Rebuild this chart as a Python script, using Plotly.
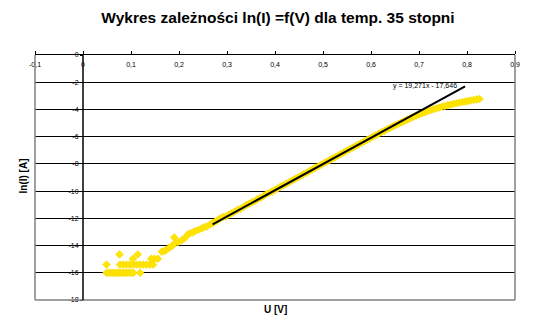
import plotly.graph_objects as go

# ---- data ----
u_low = [0.049, 0.053, 0.057, 0.061, 0.065, 0.069, 0.073, 0.077, 0.081, 0.085, 0.089, 0.093,
         0.097, 0.101, 0.105, 0.119,
         0.049, 0.077, 0.083, 0.090, 0.097, 0.104, 0.111, 0.118, 0.125, 0.132, 0.139, 0.146,
         0.076, 0.114, 0.104, 0.142, 0.149, 0.156]
ln_low = [-16.0, -16.0, -16.0, -16.0, -16.0, -16.0, -16.0, -16.0, -16.0, -16.0, -16.0, -16.0,
          -16.0, -16.0, -16.0, -16.0,
          -15.4, -15.4, -15.4, -15.4, -15.4, -15.4, -15.4, -15.4, -15.4, -15.4, -15.4, -15.4,
          -14.65, -14.65, -14.97, -14.97, -14.97, -14.97]

u_rise = [0.164, 0.170, 0.174, 0.180, 0.185, 0.190, 0.192, 0.198, 0.206, 0.212, 0.218, 0.223,
          0.228, 0.233, 0.240, 0.247, 0.252, 0.258, 0.265, 0.270, 0.275, 0.280, 0.286, 0.292]
ln_rise = [-14.45, -14.40, -14.30, -14.15, -14.05, -13.40, -13.80, -13.75, -13.60, -13.45, -13.20, -13.10,
           -13.05, -12.95, -12.85, -12.75, -12.65, -12.60, -12.45, -12.35, -12.25, -12.15, -12.00, -11.90]

u_main = [0.298, 0.304, 0.310, 0.316, 0.322, 0.328, 0.334, 0.340, 0.346, 0.352, 0.358, 0.364,
          0.370, 0.376, 0.382, 0.388, 0.394, 0.400, 0.406, 0.412, 0.418, 0.424, 0.430, 0.436,
          0.442, 0.448, 0.454, 0.460, 0.466, 0.472, 0.478, 0.484, 0.490, 0.496, 0.502, 0.508,
          0.514, 0.520, 0.526, 0.532, 0.538, 0.544, 0.550, 0.556, 0.562, 0.568, 0.574, 0.580,
          0.586, 0.592, 0.598, 0.604, 0.610, 0.616, 0.622, 0.628, 0.634, 0.640, 0.646, 0.652,
          0.658, 0.664, 0.670, 0.676, 0.682, 0.688, 0.694, 0.700, 0.706, 0.712, 0.718, 0.724,
          0.730, 0.736, 0.742, 0.748, 0.754, 0.760, 0.766, 0.772, 0.778, 0.784, 0.790, 0.796,
          0.802, 0.808, 0.814, 0.820, 0.826]
ln_main = [-11.86, -11.72, -11.62, -11.51, -11.38, -11.30, -11.17, -11.02, -10.93, -10.82, -10.72, -10.58,
           -10.49, -10.37, -10.22, -10.13, -10.03, -9.90, -9.80, -9.66, -9.56, -9.45, -9.33, -9.21,
           -9.10, -8.99, -8.88, -8.74, -8.65, -8.52, -8.41, -8.29, -8.18, -8.06, -7.96, -7.83,
           -7.72, -7.60, -7.50, -7.37, -7.27, -7.14, -7.04, -6.91, -6.81, -6.69, -6.58, -6.46,
           -6.35, -6.23, -6.12, -6.00, -5.90, -5.78, -5.67, -5.57, -5.45, -5.35, -5.24, -5.14,
           -5.04, -4.94, -4.84, -4.74, -4.65, -4.55, -4.46, -4.37, -4.29, -4.21, -4.13, -4.06,
           -3.99, -3.92, -3.86, -3.80, -3.75, -3.69, -3.64, -3.59, -3.54, -3.50, -3.46, -3.42,
           -3.38, -3.34, -3.30, -3.27, -3.23]

u_data = u_low + u_rise + u_main
ln_data = ln_low + ln_rise + ln_main

# trendline y = 19,271x - 17,646
slope = 19.271
intercept = -17.646
trend_u = [0.270, 0.796]
trend_ln = [slope * u + intercept for u in trend_u]

x_ticks = [-0.1, 0.0, 0.1, 0.2, 0.3, 0.4, 0.5, 0.6, 0.7, 0.8, 0.9]
x_ticktext = ["-0,1", "0", "0,1", "0,2", "0,3", "0,4", "0,5", "0,6", "0,7", "0,8", "0,9"]
y_ticks = [0, -2, -4, -6, -8, -10, -12, -14, -16, -18]
y_ticktext = ["0", "-2", "-4", "-6", "-8", "-10", "-12", "-14", "-16", "-18"]

FONT = "Liberation Sans, Arial, sans-serif"

fig = go.Figure()
fig.add_trace(go.Scatter(
    x=u_data, y=ln_data, mode="markers",
    marker=dict(symbol="diamond", size=6, color="#FFE600",
                line=dict(color="#F2D200", width=0.5)),
    showlegend=False, hoverinfo="x+y"))
fig.add_trace(go.Scatter(
    x=trend_u, y=trend_ln, mode="lines",
    line=dict(color="black", width=2), showlegend=False))

fig.update_layout(
    width=556, height=335,
    margin=dict(l=35, r=41, t=55, b=35),
    paper_bgcolor="white", plot_bgcolor="white",
    font=dict(family=FONT, color="black"),
    title=dict(text="<b>Wykres zależności ln(I) =f(V) dla temp. 35 stopni</b>",
               x=0.5, xref="container", xanchor="center",
               y=1 - 18 / 335, yref="container", yanchor="middle",
               font=dict(size=15.5, family=FONT, color="black")),
    xaxis=dict(range=[-0.1, 0.9], side="top", tickvals=x_ticks, ticktext=x_ticktext,
               ticklabelposition="inside", ticklabeloverflow="allow", ticklabelstandoff=6,
               ticks="outside", ticklen=3, tickcolor="black",
               showline=True, linecolor="black", linewidth=1,
               showgrid=False, zeroline=False,
               tickfont=dict(size=7, family=FONT, color="black")),
    yaxis=dict(range=[-18, 0], anchor="free", position=0.1,
               tickvals=y_ticks, ticktext=y_ticktext, ticklabeloverflow="allow",
               ticks="outside", ticklen=3, tickcolor="black",
               showline=False,
               showgrid=True, gridcolor="black", gridwidth=1, zeroline=False,
               tickfont=dict(size=7, family=FONT, color="black")),
    shapes=[
        dict(type="line", xref="paper", yref="paper", x0=0, x1=0, y0=0, y1=1,
             line=dict(color="#808080", width=1.5)),
        dict(type="line", xref="paper", yref="paper", x0=0, x1=1, y0=0, y1=0,
             line=dict(color="#808080", width=1.5)),
        dict(type="line", xref="paper", yref="paper", x0=1, x1=1, y0=0, y1=1,
             line=dict(color="#808080", width=1.5)),
        dict(type="line", xref="x", yref="paper", x0=0, x1=0, y0=0, y1=1,
             layer="above", line=dict(color="#000000", width=1.5)),
    ],
    annotations=[
        dict(text="y = 19,271x - 17,646", x=0.712, y=-2.28, xref="x", yref="y",
             showarrow=False, font=dict(size=7, family=FONT)),
        dict(text="<b>U [V]</b>", x=0.5, y=-(317 - 300) / 245, xref="paper", yref="paper",
             showarrow=False, font=dict(size=10, family=FONT)),
        dict(text="<b>ln(I) [A]</b>", x=-(35 - 15) / 480, y=1 - (176 - 55) / 245,
             xref="paper", yref="paper", textangle=-90,
             showarrow=False, font=dict(size=10, family=FONT)),
    ],
)

fig.write_html("out.html")
